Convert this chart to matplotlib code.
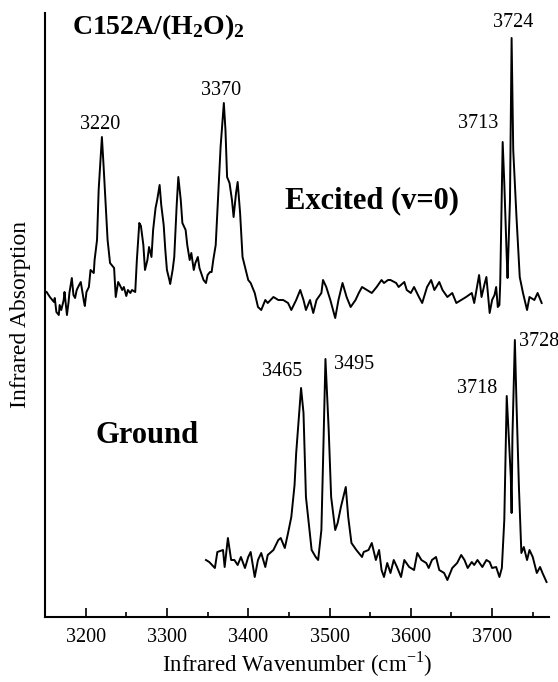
import matplotlib
matplotlib.use('Agg')
import matplotlib.pyplot as plt
from matplotlib.ticker import MultipleLocator

plt.rcParams['font.family'] = ['Liberation Serif', 'DejaVu Serif']
plt.rcParams['mathtext.fontset'] = 'custom'
plt.rcParams['mathtext.rm'] = 'Liberation Serif'
plt.rcParams['mathtext.bf'] = 'Liberation Serif:bold'

# excited state (v=0) IR spectrum: wavenumber (cm-1), absorption (arb. units)
exc_wn = [3152, 3156, 3161, 3162, 3164, 3167, 3168, 3170, 3173, 3174, 3177, 3179, 3180, 3183,
          3185, 3187, 3189, 3192, 3194, 3198, 3199, 3201, 3204, 3206, 3210, 3211, 3214, 3216,
          3220, 3222, 3225, 3227, 3230, 3232, 3235, 3237, 3240, 3242, 3245, 3247, 3250, 3252,
          3255, 3257, 3261, 3263, 3266, 3268, 3271, 3273, 3276, 3278, 3281, 3283, 3286, 3288,
          3291, 3293, 3296, 3298, 3300, 3303, 3304, 3307, 3309, 3312, 3314, 3317, 3319, 3323,
          3325, 3328, 3330, 3333, 3335, 3338, 3340, 3343, 3345, 3348, 3350, 3353, 3355, 3357,
          3360, 3362, 3366, 3370, 3372, 3374, 3377, 3380, 3382, 3385, 3387, 3390, 3393, 3397,
          3400, 3403, 3408, 3412, 3416, 3421, 3424, 3431, 3437, 3443, 3449, 3453, 3459, 3464,
          3468, 3471, 3476, 3480, 3484, 3490, 3492, 3496, 3501, 3507, 3511, 3516, 3521, 3526,
          3532, 3536, 3540, 3546, 3552, 3558, 3564, 3567, 3572, 3575, 3582, 3585, 3592, 3595,
          3600, 3604, 3610, 3614, 3620, 3625, 3629, 3635, 3639, 3645, 3651, 3656, 3662, 3668,
          3675, 3678, 3684, 3687, 3691, 3693, 3697, 3700, 3703, 3705, 3707, 3709, 3710, 3713,
          3715, 3718, 3719, 3722, 3724, 3726, 3730, 3734, 3738, 3743, 3746, 3752, 3756, 3761]
exc_abs = [28, 23, 18, 22, 8, 5, 15, 10, 20, 28, 5, 18, 27, 42,
           25, 22, 30, 35, 38, 18, 14, 28, 33, 50, 47, 60, 80, 130,
           183, 155, 110, 80, 57, 55, 52, 23, 38, 35, 30, 33, 24, 30,
           27, 30, 28, 60, 97, 94, 75, 50, 60, 73, 63, 90, 112, 120,
           135, 115, 95, 70, 50, 40, 36, 50, 63, 115, 143, 120, 97, 90,
           75, 60, 67, 50, 57, 63, 52, 45, 40, 37, 45, 48, 48, 60,
           75, 107, 173, 217, 190, 143, 137, 120, 103, 127, 138, 107, 63, 50,
           40, 37, 27, 13, 10, 20, 17, 23, 20, 20, 17, 10, 20, 30,
           20, 10, 20, 7, 20, 27, 40, 33, 20, 2, 20, 37, 23, 13,
           20, 27, 33, 30, 27, 33, 40, 37, 40, 40, 37, 33, 38, 30,
           27, 33, 23, 17, 33, 40, 30, 38, 30, 23, 27, 17, 20, 23,
           27, 17, 45, 23, 37, 43, 7, 20, 25, 33, 13, 15, 37, 178,
           137, 63, 42, 120, 282, 170, 103, 43, 27, 10, 23, 20, 27, 17]

# ground state IR spectrum
gnd_wn = [3348, 3352, 3359, 3362, 3369, 3371, 3375, 3379, 3383, 3387, 3391, 3396, 3400, 3403,
          3408, 3412, 3416, 3421, 3424, 3431, 3437, 3440, 3445, 3449, 3453, 3457, 3459, 3465,
          3468, 3471, 3478, 3483, 3486, 3490, 3492, 3495, 3499, 3502, 3507, 3510, 3514, 3520,
          3523, 3527, 3533, 3540, 3542, 3548, 3552, 3557, 3561, 3564, 3567, 3571, 3575, 3579,
          3583, 3588, 3592, 3598, 3604, 3608, 3613, 3619, 3622, 3626, 3631, 3635, 3641, 3645,
          3651, 3657, 3662, 3666, 3670, 3675, 3678, 3682, 3688, 3693, 3697, 3700, 3705, 3709,
          3712, 3715, 3718, 3723, 3724, 3725, 3728, 3730, 3733, 3736, 3739, 3743, 3746, 3750,
          3755, 3759, 3762, 3767]
gnd_abs = [30, 28, 22, 38, 40, 23, 52, 30, 30, 25, 33, 22, 33, 38,
           13, 30, 37, 23, 35, 40, 50, 52, 42, 57, 73, 105, 137, 202,
           177, 93, 40, 33, 30, 60, 127, 231, 160, 93, 60, 67, 83, 103,
           73, 47, 40, 33, 38, 40, 47, 30, 40, 20, 13, 27, 17, 30,
           23, 13, 30, 23, 20, 37, 30, 27, 22, 30, 33, 20, 17, 10,
           22, 27, 35, 30, 22, 28, 25, 30, 23, 30, 28, 22, 23, 13,
           22, 70, 194, 113, 77, 153, 250, 187, 103, 37, 43, 30, 40, 33,
           17, 23, 17, 8]

exc_peaks = [3220, 3370, 3713, 3724]
gnd_peaks = [3465, 3495, 3718, 3728]

# vertical stacking of the two traces
exc_offset = 299
gnd_offset = 29

# label placement per peak: (dx, dy) in points, ha, va
exc_label_pos = [(-1.5, 6, 'center', 'baseline'), (-2, 6, 'center', 'baseline'),
                 (-3, 10, 'right', 'baseline'), (1, 8, 'center', 'baseline')]
gnd_label_pos = [(1, 9, 'right', 'baseline'), (6, -4, 'left', 'center'),
                 (-7, 2, 'right', 'baseline'), (3, -1, 'left', 'center')]

fig = plt.figure(figsize=(5.58, 6.82), dpi=100)
ax = fig.add_axes([45 / 558, 1 - 617 / 682, 504 / 558, 604 / 682])

exc_y = [v + exc_offset for v in exc_abs]
gnd_y = [v + gnd_offset for v in gnd_abs]
ax.plot(exc_wn, exc_y, color='black', lw=1.4)
ax.plot(gnd_wn, gnd_y, color='black', lw=1.4)

for peaks, wn, yy, pos in [(exc_peaks, exc_wn, exc_y, exc_label_pos),
                           (gnd_peaks, gnd_wn, gnd_y, gnd_label_pos)]:
    for p, (dx, dy, ha, va) in zip(peaks, pos):
        ax.annotate(str(p), xy=(p, yy[wn.index(p)]), xytext=(dx, dy),
                    textcoords='offset points', ha=ha, va=va, fontsize=14.5)

ax.set_xlim(3150, 3770)
ax.set_ylim(2, 606)
ax.xaxis.set_major_locator(MultipleLocator(100))
ax.xaxis.set_minor_locator(MultipleLocator(50))
ax.tick_params(axis='x', which='major', direction='in', length=6.5, width=1.2,
               labelsize=14.5, pad=8)
ax.tick_params(axis='x', which='minor', direction='in', length=3.5, width=1.2)
ax.set_yticks([])
for side in ['top', 'right']:
    ax.spines[side].set_visible(False)
for side in ['left', 'bottom']:
    ax.spines[side].set_linewidth(1.5)

ax.set_xlabel('Infrared Wavenumber (cm$^{-1}$)', fontsize=16.5)
ax.xaxis.set_label_coords(0.5, -0.054)
ax.set_ylabel('Infrared Absorption', fontsize=17)
ax.yaxis.set_label_coords(-0.028, 0.5)

ax.text(0.054, 0.965, r'$\mathbf{C152A/(H_2O)_2}$', transform=ax.transAxes,
        fontsize=20, ha='left', va='baseline')
ax.text(3445, 411, 'Excited (v=0)', fontsize=22, fontweight='bold',
        ha='left', va='baseline')
ax.text(3212, 176, 'Ground', fontsize=22, fontweight='bold', ha='left', va='baseline')

fig.savefig('out.png', dpi=100)
